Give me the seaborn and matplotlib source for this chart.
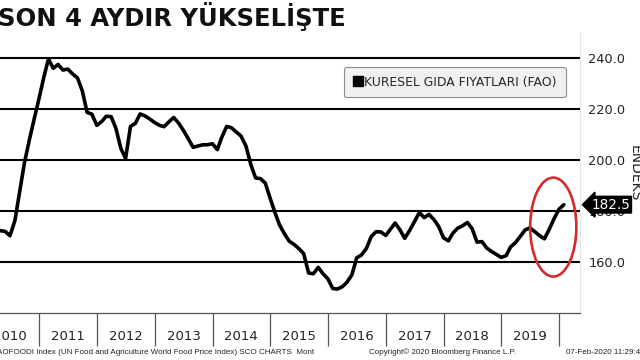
import pandas as pd
import matplotlib.pyplot as plt
import matplotlib.dates as mdates
from matplotlib.patches import Ellipse
from matplotlib.lines import Line2D
import seaborn as sns

# --- data (month-end values) ---
title = "SON 4 AYDIR YÜKSELİŞTE"
series_name = "KURESEL GIDA FIYATLARI (FAO)"
axis_label = "ENDEKS"
y_ticks = [160, 180, 200, 220, 240]
source_note = "AOFOODI Index (UN Food and Agriculture World Food Price Index) SCO CHARTS  Mont"
copyright_note = "Copyright\u00a9 2020 Bloomberg Finance L.P."
stamp_note = "07-Feb-2020 11:29:49"

idx_2010 = [172.5, 172.3, 172.0, 170.3, 176.2, 187.8, 199.1, 208.0, 216.1, 224.2]  # Mar-Dec
idx_2011 = [232.7, 239.6, 236.0, 237.5, 235.3, 235.7, 233.8, 232.2, 227.2, 218.7, 218.0, 213.6]
idx_2012 = [215.1, 217.2, 217.0, 212.4, 204.6, 200.6, 213.2, 214.4, 218.1, 217.3, 216.1, 214.7]
idx_2013 = [213.6, 213.1, 215.0, 216.7, 214.5, 211.7, 208.4, 205.0, 205.5, 206.0, 206.0, 206.4]
idx_2014 = [204.1, 208.9, 213.2, 212.7, 211.0, 209.4, 205.5, 198.2, 193.0, 192.7, 191.0, 185.0]
idx_2015 = [179.3, 174.6, 171.1, 168.2, 166.9, 165.3, 163.3, 155.7, 155.4, 157.9, 155.4, 153.4]
idx_2016 = [149.6, 149.4, 150.3, 152.1, 155.0, 161.6, 162.8, 165.4, 170.0, 171.9, 171.8, 170.4]
idx_2017 = [173.0, 175.3, 172.6, 169.3, 172.4, 175.8, 179.4, 177.4, 178.7, 176.7, 174.0, 169.5]
idx_2018 = [168.3, 171.3, 173.3, 174.2, 175.5, 173.1, 167.8, 168.0, 165.5, 164.1, 163.0, 161.8]
idx_2019 = [162.5, 165.9, 167.6, 170.0, 172.6, 173.4, 171.9, 170.3, 169.1, 172.9, 177.0, 180.7]
idx_2020 = [182.5]

values = idx_2010 + idx_2011 + idx_2012 + idx_2013 + idx_2014 + idx_2015 + \
    idx_2016 + idx_2017 + idx_2018 + idx_2019 + idx_2020
dates = pd.date_range("2010-04-01", periods=len(values), freq="MS") - pd.Timedelta(days=1)
df = pd.DataFrame({"date": dates, "index": values})

sns.set_style("white")
plt.rcParams["font.family"] = ["DejaVu Sans"]

fig = plt.figure(figsize=(6.4, 3.6), dpi=100)
ax = fig.add_axes([0, 1 - 313 / 360, 580 / 640, (313 - 32.6) / 360])

sns.lineplot(data=df, x="date", y="index", ax=ax, color="black", linewidth=2.6, zorder=3)

for v in y_ticks:
    ax.axhline(v, color="black", linewidth=1.5, zorder=2)

ax.set_xlim(pd.Timestamp("2010-04-28"), pd.Timestamp("2020-05-12"))
ax.set_ylim(140, 250)

# y axis on the right
ax.yaxis.tick_right()
ax.set_yticks(y_ticks)
ax.set_yticklabels([f"{v:.1f}" for v in y_ticks])
ax.tick_params(axis="y", length=0, pad=6, labelsize=9.3, colors="#222222")
ax.set_ylabel("")
ax.set_xlabel("")
fig.text(634.5 / 640, 0.518, axis_label, rotation=270, fontsize=10, ha="center", va="center",
         color="#222222")

# x axis: separators at each January, year labels mid-year
ax.xaxis.set_major_locator(mdates.YearLocator())
ax.xaxis.set_major_formatter(plt.NullFormatter())
ax.xaxis.set_minor_locator(mdates.MonthLocator(bymonth=7, bymonthday=1))
ax.xaxis.set_minor_formatter(mdates.DateFormatter("%Y"))
ax.tick_params(axis="x", which="both", bottom=True)
ax.tick_params(axis="x", which="major", length=24, width=0.9, color="#555555", direction="out")
ax.tick_params(axis="x", which="minor", length=0, pad=12, labelsize=9.5, colors="#222222")

for side in ["top", "left"]:
    ax.spines[side].set_visible(False)
ax.spines["bottom"].set_color("#555555")
ax.spines["bottom"].set_linewidth(0.9)
ax.spines["right"].set_color("#e6e6e6")
ax.spines["right"].set_linewidth(0.8)

# legend
handle = Line2D([], [], color="black", marker="s", linestyle="none", markersize=6.5)
leg = ax.legend([handle], [series_name], loc="upper right", bbox_to_anchor=(0.975, 0.877),
                fontsize=8.9, frameon=True, fancybox=True, handletextpad=0.15,
                borderpad=0.7, handlelength=0.8, borderaxespad=0)
leg.get_frame().set_facecolor("#f0f0f0")
leg.get_frame().set_edgecolor("#8a8a8a")
leg.get_frame().set_linewidth(0.8)
leg.get_frame().set_alpha(1)

# last value badge
last = values[-1]
ax.annotate(f"{last:.1f}", xy=(1.0, last), xycoords=("axes fraction", "data"),
            xytext=(8, 0), textcoords="offset points", ha="left", va="center",
            fontsize=9.8, color="white", zorder=10,
            bbox=dict(boxstyle="larrow,pad=0.1", fc="black", ec="black"))

# red ellipse highlight around the last months
circle = Ellipse((mdates.date2num(pd.Timestamp("2019-11-25")), 173.7), width=292, height=38.8,
                 fill=False, edgecolor="#d42a2a", linewidth=1.9, zorder=5, clip_on=False)
ax.add_patch(circle)

fig.text(-0.003, 0.953, title, fontsize=17.5, fontweight="bold", ha="left", va="center", color="#111111")
foot = dict(fontsize=5.8, ha="left", va="center", color="#222222", family="Liberation Sans")
fig.text(-0.004, 0.021, source_note, **foot)
fig.text(0.577, 0.021, copyright_note, **foot)
fig.text(0.884, 0.021, stamp_note, **foot)

fig.savefig("out.png", dpi=100)
